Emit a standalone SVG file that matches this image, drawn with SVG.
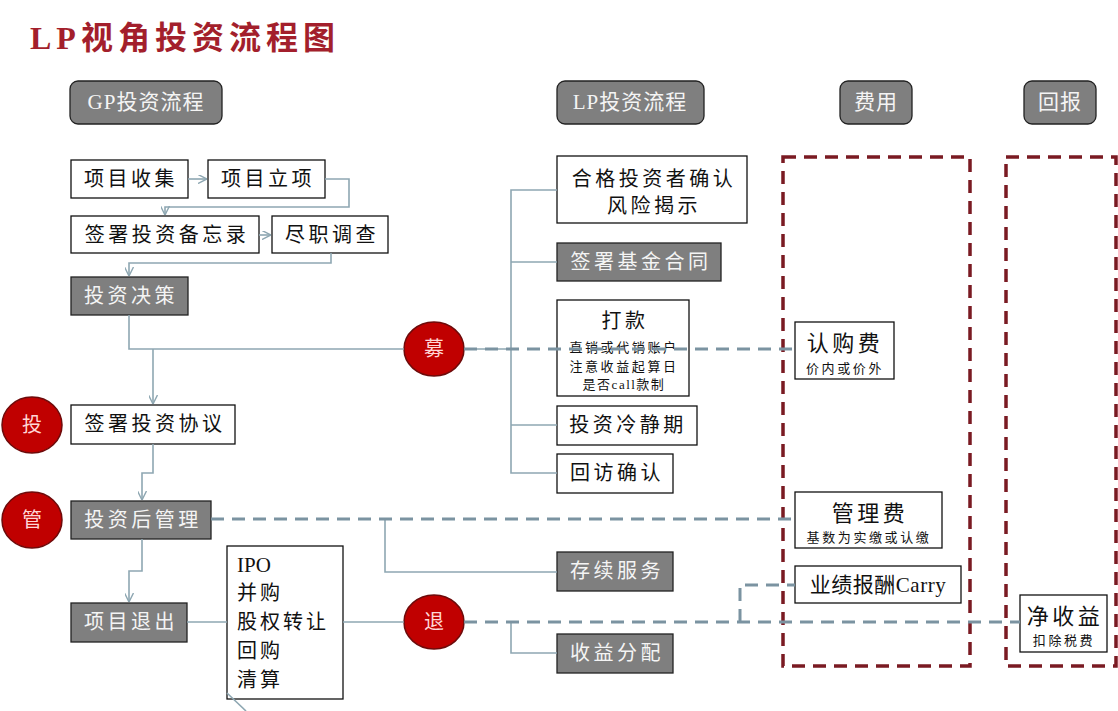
<svg xmlns="http://www.w3.org/2000/svg" width="1118" height="711" viewBox="0 0 1118 711">
<defs>
<style>
text{font-family:"Liberation Serif","Noto Sans CJK SC",serif;}
.t{font-size:20px;letter-spacing:3.5px;text-anchor:middle;dominant-baseline:central;fill:#111;}
.tw{font-size:20px;letter-spacing:3.5px;text-anchor:middle;dominant-baseline:central;fill:#f4f4f4;}
.hd{font-size:21px;letter-spacing:1px;text-anchor:middle;dominant-baseline:central;fill:#f4f4f4;}
.s{font-size:13px;letter-spacing:2.6px;text-anchor:middle;dominant-baseline:central;fill:#111;}
.c{font-size:20px;text-anchor:middle;dominant-baseline:central;fill:#ffd6d6;}
.ip{font-size:20px;letter-spacing:3px;fill:#111;}
.box{fill:#fff;stroke:#111;stroke-width:1.3;}
.gbox{fill:#7f7f7f;stroke:#222;stroke-width:1.3;}
.hbox{fill:#7f7f7f;stroke:#222;stroke-width:1.3;}
.circ{fill:#c00000;stroke:#6e0a0a;stroke-width:1.5;}
.ln{fill:none;stroke:#8ea7b2;stroke-width:1.6;}
.dl{fill:none;stroke:#7b93a1;stroke-width:3;stroke-dasharray:13 8;}
.rd{fill:none;stroke:#7a1a22;stroke-width:3.5;stroke-dasharray:13 8;}
</style>
<marker id="ah" viewBox="0 0 10 10" refX="10" refY="5" markerWidth="9" markerHeight="9" markerUnits="userSpaceOnUse" orient="auto">
<path d="M0,0 L10,5 L0,10" fill="none" stroke="#8ea7b2" stroke-width="1.6"/>
</marker>
</defs>
<rect width="1118" height="711" fill="#fff"/>

<text x="30" y="49" style="font-size:32px;font-weight:bold;letter-spacing:5px;fill:#a31f2c;">LP视角投资流程图</text>

<g id="hdr-gp"><rect class="hbox" x="70" y="81" width="152" height="43" rx="8"/><text class="hd" x="146" y="102">GP投资流程</text></g>
<g id="hdr-lp"><rect class="hbox" x="557" y="81" width="147" height="43" rx="8"/><text class="hd" x="630" y="102">LP投资流程</text></g>
<g id="hdr-fee"><rect class="hbox" x="840" y="81" width="72" height="43" rx="8"/><text class="hd" x="876" y="102">费用</text></g>
<g id="hdr-ret"><rect class="hbox" x="1024" y="81" width="72" height="43" rx="8"/><text class="hd" x="1060" y="102">回报</text></g>

<g id="zone-fee"><rect class="rd" x="783" y="157" width="187" height="509"/></g>
<g id="zone-ret"><rect class="rd" x="1006" y="157" width="110" height="509"/></g>

<g id="n-collect"><rect class="box" x="71" y="160" width="117" height="38"/><text class="t" x="131" y="179">项目收集</text></g>
<g id="n-approve"><rect class="box" x="208" y="160" width="117" height="38"/><text class="t" x="268" y="179">项目立项</text></g>
<g id="n-memo"><rect class="box" x="71" y="216" width="188" height="37"/><text class="t" x="167" y="235">签署投资备忘录</text></g>
<g id="n-dd"><rect class="box" x="272" y="216" width="116" height="37"/><text class="t" x="332" y="235">尽职调查</text></g>
<g id="n-decision"><rect class="gbox" x="71" y="277" width="117" height="38"/><text class="tw" x="131" y="296">投资决策</text></g>
<g id="n-agreement"><rect class="box" x="71" y="405" width="164" height="39"/><text class="t" x="155" y="424">签署投资协议</text></g>
<g id="n-postmgmt"><rect class="gbox" x="71" y="501" width="140" height="38"/><text class="tw" x="143" y="520">投资后管理</text></g>
<g id="n-exit"><rect class="gbox" x="71" y="603" width="116" height="39"/><text class="tw" x="131" y="622">项目退出</text></g>
<g id="n-exitways"><rect class="box" x="227" y="546" width="116" height="153"/>
<text class="ip" x="237" y="572" style="letter-spacing:0px;font-size:21px">IPO</text>
<text class="ip" x="237" y="600">并购</text>
<text class="ip" x="237" y="629">股权转让</text>
<text class="ip" x="237" y="658">回购</text>
<text class="ip" x="237" y="687">清算</text></g>

<g id="c-mu"><ellipse class="circ" cx="434" cy="349" rx="30" ry="27"/><text class="c" x="434" y="349">募</text></g>
<g id="c-tou"><ellipse class="circ" cx="32" cy="425" rx="30" ry="28"/><text class="c" x="32" y="425">投</text></g>
<g id="c-guan"><ellipse class="circ" cx="32" cy="520" rx="30" ry="28"/><text class="c" x="32" y="520">管</text></g>
<g id="c-tui"><ellipse class="circ" cx="434" cy="622" rx="30" ry="27"/><text class="c" x="434" y="622">退</text></g>

<g id="n-qualify"><rect class="box" x="557" y="156" width="190" height="67"/><text class="t" x="654" y="179">合格投资者确认</text><text class="t" x="654" y="206">风险揭示</text></g>
<g id="n-contract"><rect class="gbox" x="557" y="243" width="164" height="38"/><text class="tw" x="641" y="262">签署基金合同</text></g>
<g id="n-pay"><rect class="box" x="557" y="300" width="132" height="96"/><text class="t" x="625" y="321">打款</text>
<text class="s" x="624" y="347">直销或代销账户</text><text class="s" x="624" y="366">注意收益起算日</text><text class="s" x="624" y="384" style="letter-spacing:1.5px">是否call款制</text></g>
<g id="n-cooling"><rect class="box" x="557" y="406" width="140" height="39"/><text class="t" x="628" y="425">投资冷静期</text></g>
<g id="n-revisit"><rect class="box" x="557" y="454" width="116" height="39"/><text class="t" x="617" y="473">回访确认</text></g>
<g id="n-service"><rect class="gbox" x="557" y="552" width="116" height="39"/><text class="tw" x="617" y="571">存续服务</text></g>
<g id="n-distribute"><rect class="gbox" x="557" y="634" width="116" height="39"/><text class="tw" x="617" y="653">收益分配</text></g>

<g id="n-subfee"><rect class="box" x="795" y="322" width="99" height="57"/><text class="t" x="845" y="343" style="font-size:22px">认购费</text><text class="s" x="845" y="368">价内或价外</text></g>
<g id="n-mgmtfee"><rect class="box" x="795" y="492" width="147" height="56"/><text class="t" x="870" y="513" style="font-size:22px">管理费</text><text class="s" x="869" y="537">基数为实缴或认缴</text></g>
<g id="n-carry"><rect class="box" x="795" y="566" width="166" height="37"/><text class="t" x="878" y="585" style="letter-spacing:0.5px;font-size:21px">业绩报酬Carry</text></g>
<g id="n-net"><rect class="box" x="1020" y="595" width="87" height="57"/><text class="t" x="1065" y="616" style="font-size:22px">净收益</text><text class="s" x="1064" y="640">扣除税费</text></g>

<g id="connectors">
<path class="ln" d="M188,179 H207" marker-end="url(#ah)"/>
<path class="ln" d="M325,179 H349 V207 H165 V215" marker-end="url(#ah)"/>
<path class="ln" d="M259,235 H271" marker-end="url(#ah)"/>
<path class="ln" d="M331,253 V263 H129 V276" marker-end="url(#ah)"/>
<path class="ln" d="M129,315 V349 H404"/>
<path class="ln" d="M153,349 V404" marker-end="url(#ah)"/>
<path class="ln" d="M153,444 V473 H142 V500" marker-end="url(#ah)"/>
<path class="ln" d="M142,539 V571 H129 V602" marker-end="url(#ah)"/>
<path class="ln" d="M187,622 H227"/>
<path class="ln" d="M343,622 H404"/>
<path class="ln" d="M227,693 L246,711"/>
<path class="ln" d="M464,349 H511"/>
<path class="ln" d="M557,190 H511 V473 H557"/>
<path class="ln" d="M511,262 H557"/>
<path class="ln" d="M511,425 H557"/>
<path class="ln" d="M385,519 V572 H557"/>
<path class="ln" d="M511,622 V653 H557"/>
<path class="dl" d="M464,349 H795"/>
<path class="dl" d="M211,519 H795"/>
<path class="dl" d="M464,622 H1020"/>
<path class="dl" d="M740,622 V585 H795"/>
</g>
</svg>
